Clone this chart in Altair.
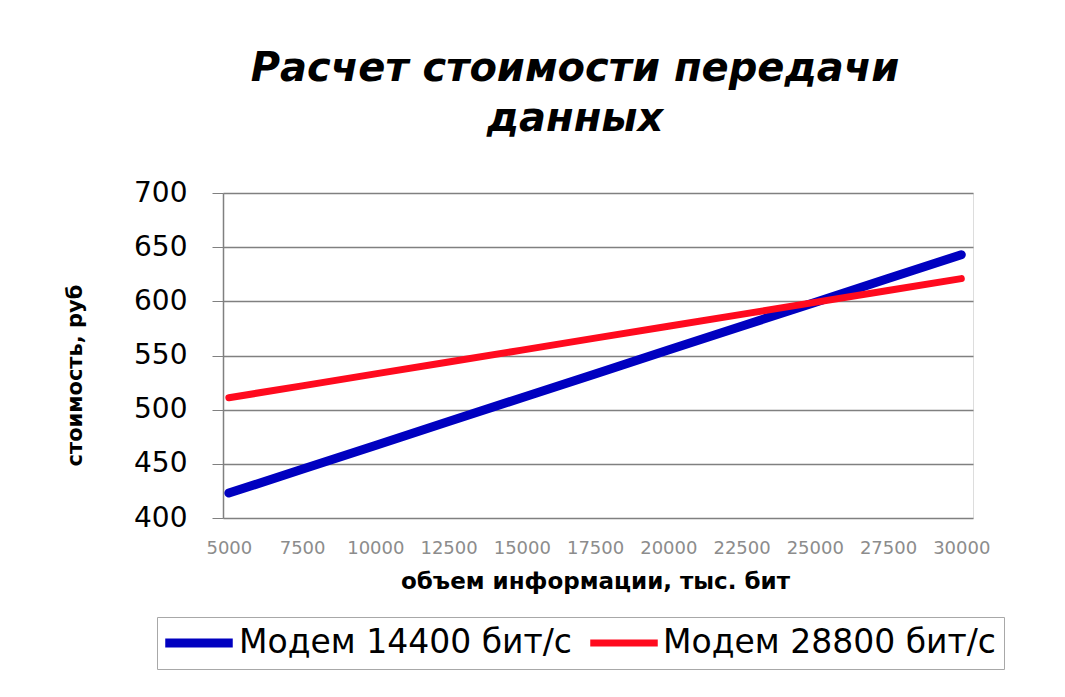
import altair as alt
import pandas as pd

volume = [5000, 7500, 10000, 12500, 15000, 17500, 20000, 22500, 25000, 27500, 30000]
modem_14400 = [423, 445, 467, 489, 511, 533, 555, 577, 599, 621, 643]
modem_28800 = [511, 522, 533, 544, 555, 566, 577, 588, 599, 610, 621]
series_names = ["Модем 14400 бит/с", "Модем 28800 бит/с"]
y_ticks = [400, 450, 500, 550, 600, 650, 700]
x_ticks = volume

rows = []
for v, a, b in zip(volume, modem_14400, modem_28800):
    rows.append({"volume": v, "cost": a, "series": series_names[0]})
    rows.append({"volume": v, "cost": b, "series": series_names[1]})
df = pd.DataFrame(rows)

FONT = "DejaVu Sans"

legend_kw = dict(title=None, orient="none", legendX=-66, legendY=424,
                 direction="horizontal", symbolType="M-2.5,0L2.5,0",
                 symbolSize=729, symbolOffset=16, labelFont=FONT, labelFontSize=33,
                 labelColor="black", labelOffset=22, columnPadding=4,
                 padding=8, strokeColor="#a8a8a8", fillColor="white",
                 labelLimit=500)

chart = alt.Chart(df).mark_line(strokeCap="round", strokeJoin="round").encode(
    x=alt.X("volume:Q",
            scale=alt.Scale(domain=[4800, 30400], nice=False, zero=False),
            axis=alt.Axis(values=x_ticks, format="d", title="объем информации, тыс. бит",
                          labelFont=FONT, labelFontSize=18, labelColor="#8c8c8c",
                          labelPadding=21, ticks=False, domain=False, grid=False,
                          labelFlush=False, labelOverlap=False,
                          titleFont=FONT, titleFontSize=23, titleFontWeight="bold",
                          titleColor="black", titleX=372, titleY=63,
                          titleBaseline="middle", titleAlign="center")),
    y=alt.Y("cost:Q",
            scale=alt.Scale(domain=[400, 700], nice=False, zero=False),
            axis=alt.Axis(values=y_ticks, title="стоимость, руб",
                          labelFont=FONT, labelFontSize=28, labelColor="black",
                          labelPadding=25, tickSize=11, tickColor="#808080",
                          domain=True, domainColor="#808080", domainWidth=1.5,
                          grid=True, gridColor="#808080", gridWidth=1.5,
                          titleFont=FONT, titleFontSize=21, titleFontWeight="bold",
                          titleColor="black", titleX=-148, titleY=182,
                          titleAngle=-90, titleAlign="center", titleBaseline="middle")),
    color=alt.Color("series:N",
                    scale=alt.Scale(domain=series_names, range=["#0000c0", "#ff0a1e"]),
                    legend=alt.Legend(**legend_kw)),
    strokeWidth=alt.StrokeWidth("series:N",
                                scale=alt.Scale(domain=series_names, range=[9, 7]),
                                legend=alt.Legend(**legend_kw)),
).properties(
    width=750,
    height=325,
    title=alt.TitleParams(["Расчет стоимости передачи", "данных"],
                          font=FONT, fontSize=40, fontStyle="italic", fontWeight="bold",
                          color="black", anchor="middle", frame="group", dx=-23,
                          lineHeight=50, offset=40),
    padding={"left": 215, "top": 185, "right": 84, "bottom": 171},
    autosize="none",
).configure_view(
    fill="#c0c0c0", stroke="#909090", strokeWidth=1
).configure(background="white")

chart.save("out.html", embed_options={"renderer": "svg", "actions": False})
